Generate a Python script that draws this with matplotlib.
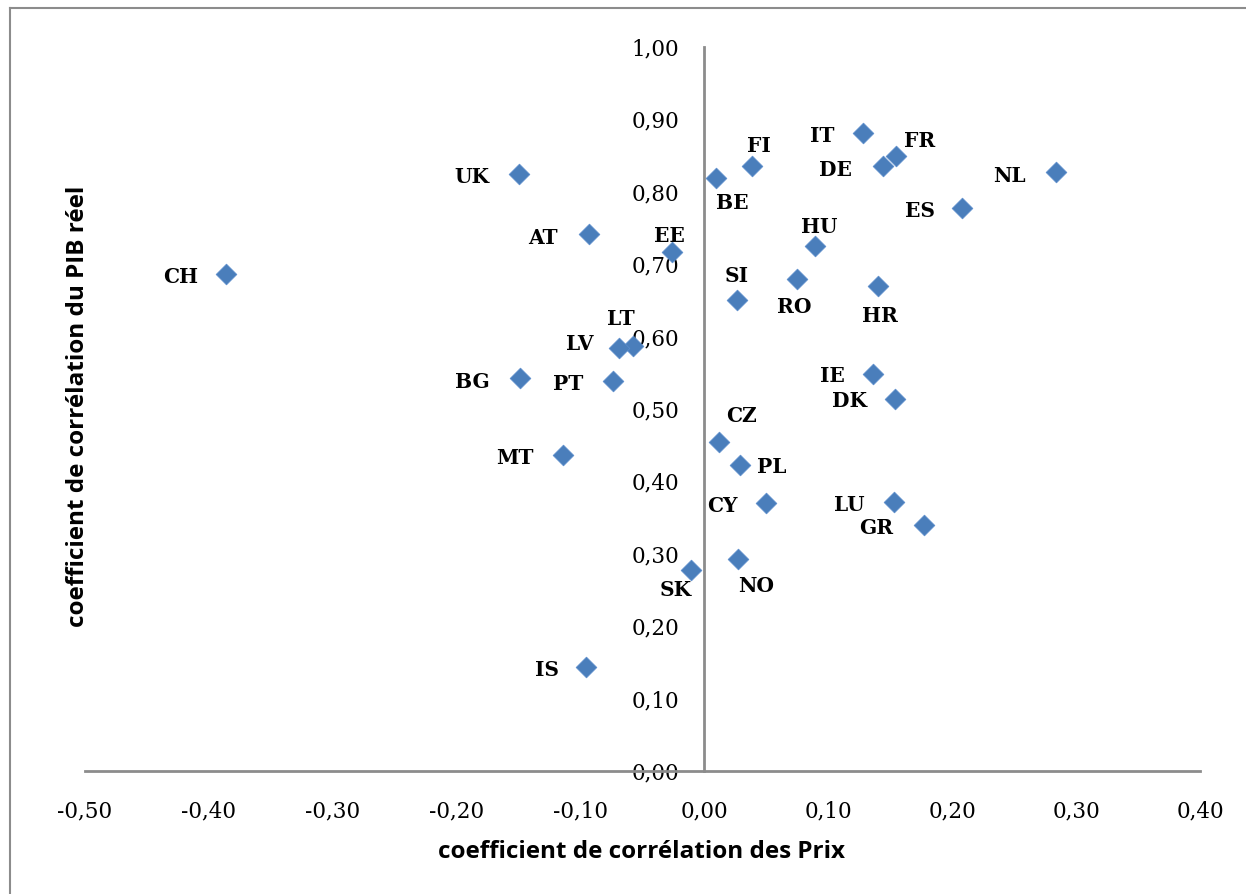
import matplotlib.pyplot as plt
from matplotlib.lines import Line2D
from matplotlib.ticker import FuncFormatter

# correlation coefficients per country
pays = ['CH', 'UK', 'AT', 'EE', 'BE', 'FI', 'IT', 'FR', 'DE', 'NL', 'ES', 'HU',
        'SI', 'RO', 'HR', 'LT', 'LV', 'BG', 'PT', 'IE', 'DK', 'CZ', 'PL', 'MT',
        'CY', 'LU', 'GR', 'NO', 'SK', 'IS']
prix = [-0.386, -0.150, -0.093, -0.026, 0.009, 0.038, 0.128, 0.155, 0.144, 0.284,
        0.208, 0.089, 0.026, 0.075, 0.140, -0.058, -0.069, -0.149, -0.074, 0.136,
        0.154, 0.012, 0.029, -0.114, 0.050, 0.153, 0.177, 0.027, -0.011, -0.096]
pib = [0.687, 0.824, 0.742, 0.717, 0.819, 0.835, 0.881, 0.850, 0.835, 0.828,
       0.778, 0.725, 0.651, 0.679, 0.670, 0.587, 0.584, 0.543, 0.538, 0.548,
       0.514, 0.454, 0.422, 0.436, 0.370, 0.372, 0.340, 0.293, 0.277, 0.143]

x_ticks = [-0.5, -0.4, -0.3, -0.2, -0.1, 0.0, 0.1, 0.2, 0.3, 0.4]
y_ticks = [0.0, 0.1, 0.2, 0.3, 0.4, 0.5, 0.6, 0.7, 0.8, 0.9, 1.0]

# where each data label sits relative to its marker (pixels)
label_pos = {
    'CH': (-46, -3), 'UK': (-47, -3), 'AT': (-46, -4), 'EE': (-3, 16),
    'BE': (17, -25), 'FI': (7, 20), 'IT': (-41, -3), 'FR': (23, 15),
    'DE': (-47, -4), 'NL': (-47, -4), 'ES': (-42, -3), 'HU': (5, 19),
    'SI': (0, 24), 'RO': (-3, -28), 'HR': (2, -30), 'LT': (-12, 27),
    'LV': (-39, 4), 'BG': (-47, -4), 'PT': (-45, -3), 'IE': (-41, -2),
    'DK': (-46, -2), 'CZ': (22, 26), 'PL': (31, -2), 'MT': (-48, -3),
    'CY': (-44, -3), 'LU': (-45, -3), 'GR': (-48, -3), 'NO': (18, -27),
    'SK': (-15, -20), 'IS': (-39, -3),
}

grey = '#8c8c8c'

fig = plt.figure(figsize=(12.46, 8.94), dpi=100)
ax = fig.add_axes([0.0682, 0.1376, 0.8949, 0.8098])

ax.scatter(prix, pib, marker='D', s=112, color='#4a7ebb', edgecolors='#5a8ccc',
           linewidths=0.5, zorder=3)

for p, x, y in zip(pays, prix, pib):
    dx, dy = label_pos[p]
    ax.annotate(p, (x, y), xytext=(dx, dy), textcoords='offset pixels',
                ha='center', va='center', fontsize=14.5, fontweight='bold',
                family='DejaVu Serif', color='black', zorder=4)

ax.set_xlim(-0.5, 0.4)
ax.set_ylim(0, 1.0)
ax.set_xticks(x_ticks)
ax.set_yticks(y_ticks)
fmt = FuncFormatter(lambda v, pos: ('%.2f' % v).replace('.', ','))
ax.xaxis.set_major_formatter(fmt)
ax.yaxis.set_major_formatter(fmt)

ax.spines['left'].set_position(('data', 0))
ax.spines['bottom'].set_position(('data', 0))
ax.spines['top'].set_visible(False)
ax.spines['right'].set_visible(False)
for s in ('left', 'bottom'):
    ax.spines[s].set_color(grey)
    ax.spines[s].set_linewidth(2)

ax.tick_params(axis='y', length=0, pad=18)
ax.tick_params(axis='x', length=0, pad=21)
for lab in ax.get_xticklabels() + ax.get_yticklabels():
    lab.set_family('DejaVu Serif')
    lab.set_fontsize(15.5)

fig.text(0.515, 0.047, 'coefficient de corrélation des Prix', ha='center', va='center',
         fontsize=17.5, fontweight='bold', family='Open Sans')
fig.text(0.063, 0.546, 'coefficient de corrélation du PIB réel', ha='center', va='center',
         rotation=90, fontsize=17.5, fontweight='bold', family='Open Sans')

# chart area border (left and top edges only visible)
bx, by = 10 / 1246, 1 - 8 / 894
fig.add_artist(Line2D([bx, bx], [0, by], transform=fig.transFigure, color=grey, lw=1.5))
fig.add_artist(Line2D([bx, 1], [by, by], transform=fig.transFigure, color=grey, lw=1.5))

fig.savefig('out.png', dpi=100)
